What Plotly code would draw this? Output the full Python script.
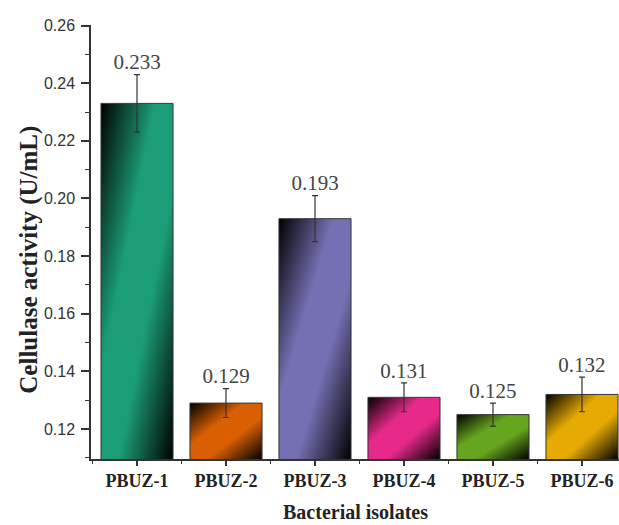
import base64
import plotly.graph_objects as go

categories = ["PBUZ-1", "PBUZ-2", "PBUZ-3", "PBUZ-4", "PBUZ-5", "PBUZ-6"]
activity = [0.233, 0.129, 0.193, 0.131, 0.125, 0.132]
errors = [0.010, 0.005, 0.008, 0.005, 0.004, 0.006]
labels = ["0.233", "0.129", "0.193", "0.131", "0.125", "0.132"]
colors = ["#1b9e77", "#d95f02", "#7570b3", "#e7298a", "#66a61e", "#e6ab02"]

Y_MIN, Y_MAX = 0.1096, 0.2602
X_MIN, X_MAX = -0.517, 5.416
BAR_W = 0.81

xpos = list(range(len(categories)))


def gradient_uri(color):
    svg = (
        '<svg xmlns="http://www.w3.org/2000/svg" width="100" height="100" '
        'viewBox="0 0 100 100" preserveAspectRatio="none">'
        '<defs><linearGradient id="g" x1="0" y1="0" x2="1" y2="1">'
        '<stop offset="0" stop-color="#000000"/>'
        f'<stop offset="0.38" stop-color="{color}"/>'
        f'<stop offset="0.62" stop-color="{color}"/>'
        '<stop offset="1" stop-color="#000000"/>'
        '</linearGradient></defs>'
        '<rect x="0" y="0" width="100" height="100" fill="url(#g)"/></svg>'
    )
    return "data:image/svg+xml;base64," + base64.b64encode(svg.encode()).decode()


fig = go.Figure()

fig.add_trace(go.Bar(
    x=xpos, y=activity, width=BAR_W,
    marker=dict(color="rgba(0,0,0,0)", line=dict(color="#333333", width=1)),
    error_y=dict(type="data", array=errors, visible=True,
                 color="#333333", thickness=1.2, width=3),
    showlegend=False, hoverinfo="x+y",
))

fig.add_trace(go.Scatter(
    x=xpos, y=[v + e for v, e in zip(activity, errors)],
    mode="text", text=labels, textposition="top center",
    textfont=dict(family="Liberation Serif, Times New Roman, serif", size=21, color="#444444"),
    showlegend=False, hoverinfo="skip",
))

images = []
for i, (v, c) in enumerate(zip(activity, colors)):
    images.append(dict(
        source=gradient_uri(c), xref="x", yref="y",
        x=i - BAR_W / 2, y=v, sizex=BAR_W, sizey=v - Y_MIN,
        xanchor="left", yanchor="top", sizing="stretch", layer="below",
    ))

fig.update_layout(
    width=619, height=525,
    margin=dict(l=91, r=0, t=25, b=66),
    paper_bgcolor="white", plot_bgcolor="rgba(0,0,0,0)",
    images=images,
    xaxis=dict(
        range=[X_MIN, X_MAX], tickmode="array", tickvals=xpos, ticktext=categories,
        showline=True, linecolor="#333333", linewidth=1.5,
        ticks="outside", ticklen=5, tickwidth=1.5, tickcolor="#333333",
        showgrid=False, zeroline=False, ticklabelstandoff=0,
        tickfont=dict(family="Liberation Serif, Times New Roman, serif", size=18, color="#222222",
                      weight="bold"),
        minor=dict(tickmode="linear", tick0=0.5, dtick=1, ticks="outside", ticklen=3,
                   tickwidth=1.2, tickcolor="#333333", showgrid=False),
    ),
    yaxis=dict(
        range=[Y_MIN, Y_MAX], tickmode="linear", tick0=0.12, dtick=0.02, tickformat=".2f",
        showline=True, linecolor="#333333", linewidth=1.5,
        ticks="outside", ticklen=8, tickwidth=1.5, tickcolor="#333333",
        showgrid=False, zeroline=False, ticklabelstandoff=3,
        tickfont=dict(family="Liberation Sans, Arial, sans-serif", size=16, color="#333333"),
        minor=dict(tickmode="linear", tick0=0.11, dtick=0.01, ticks="outside", ticklen=4,
                   tickwidth=1.2, tickcolor="#333333", showgrid=False),
    ),
    annotations=[
        dict(text="<b>Cellulase activity (U/mL)</b>", xref="paper", yref="paper",
             x=-0.118, y=0.4585, xanchor="center", yanchor="middle", textangle=-90,
             showarrow=False,
             font=dict(family="Liberation Serif, Times New Roman, serif", size=25, color="#222222")),
        dict(text="<b>Bacterial isolates</b>", xref="paper", yref="paper",
             x=0.5, y=-0.121, xanchor="center", yanchor="middle", showarrow=False,
             font=dict(family="Liberation Serif, Times New Roman, serif", size=20, color="#222222")),
    ],
)

fig.write_html(
    "out.html",
    config={"displayModeBar": False},
    post_script="document.body.style.margin='0';document.body.style.overflow='hidden';",
)
